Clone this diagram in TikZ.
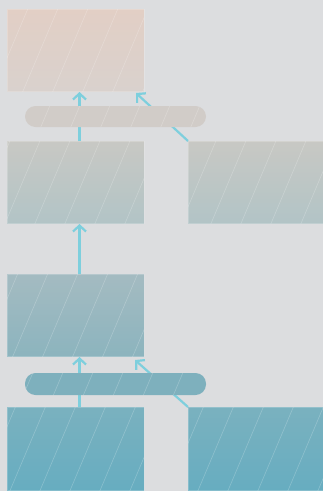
\documentclass[tikz,border=0pt]{standalone}
\usetikzlibrary{arrows.meta}
\definecolor{bg}{HTML}{DCDDDF}
\definecolor{arr}{HTML}{7ECFDD}
\definecolor{aT}{HTML}{E2CFC5}
\definecolor{aB}{HTML}{D9D1CD}
\definecolor{pA}{HTML}{D1CCC8}
\definecolor{bT}{HTML}{C8C8C4}
\definecolor{bB}{HTML}{B2C4C6}
\definecolor{dT}{HTML}{A4BBC1}
\definecolor{dB}{HTML}{8CB4BE}
\definecolor{pB}{HTML}{7EB0BD}
\definecolor{eT}{HTML}{7AB1BF}
\definecolor{eB}{HTML}{67ADC0}
\newcommand\hatchbox[2]{%
  \begin{scope}
    \clip (#1.south west) rectangle (#1.north east);
    \foreach \k in {-300,-270,...,420} \draw[hatch] (\k+#2,500) -- ++(220,-520);
  \end{scope}}
\newcommand\hatchpill[2]{%
  \begin{scope}
    \clip[rounded corners=10.5pt] (#1.south west) rectangle (#1.north east);
    \foreach \k in {-300,-270,...,420} \draw[hatch] (\k+#2,500) -- ++(220,-520);
  \end{scope}}
\begin{document}
\begin{tikzpicture}[x=1pt,y=-1pt,
  box/.style={rectangle, inner sep=0pt, outer sep=0pt, minimum width=137pt, minimum height=82pt, anchor=north west, draw=white, draw opacity=0.2, line width=0.8pt},
  pill/.style={rectangle, rounded corners=10.5pt, inner sep=0pt, outer sep=0pt, minimum width=181pt, minimum height=21pt, anchor=north west},
  conn/.style={draw=arr, line width=2.2pt, -{Straight Barb[length=6pt,width=13pt]}},
  hatch/.style={draw=white, opacity=0.22, line width=0.6pt}]
\useasboundingbox (0,0) rectangle (323,491);
\fill[bg] (0,0) rectangle (323,491);
% boxes
\node[box, top color=aT, bottom color=aB] (A) at (7,9) {};
\hatchbox{A}{0}
\node[box, top color=bT, bottom color=bB] (B) at (7,141) {};
\hatchbox{B}{8}
\node[box, minimum width=136pt, top color=bT, bottom color=bB] (C) at (188,141) {};
\hatchbox{C}{4}
\node[box, top color=dT, bottom color=dB] (D) at (7,274) {};
\hatchbox{D}{12}
\node[box, minimum height=83pt, top color=eT, bottom color=eB] (E) at (7,407) {};
\hatchbox{E}{6}
\node[box, minimum width=136pt, minimum height=83pt, top color=eT, bottom color=eB] (F) at (188,407) {};
\hatchbox{F}{14}
% connectors
\coordinate (t1) at (136,93);
\coordinate (t2) at (135,360);
\draw[conn] ([xshift=4pt]B.north) -- ([xshift=4pt,yshift=-1pt]A.south);
\draw[conn] (C.north west) -- (t1);
\draw[conn] ([xshift=4pt]D.north) -- ([xshift=4pt,yshift=-1pt]B.south);
\draw[conn] ([xshift=4pt]E.north) -- ([xshift=4pt,yshift=-1pt]D.south);
\draw[conn] (F.north west) -- (t2);
% pills
\node[pill, fill=pA] (P1) at (25,106) {};
\hatchpill{P1}{3}
\node[pill, minimum height=22pt, fill=pB] (P2) at (25,373) {};
\hatchpill{P2}{9}
\end{tikzpicture}
\end{document}
